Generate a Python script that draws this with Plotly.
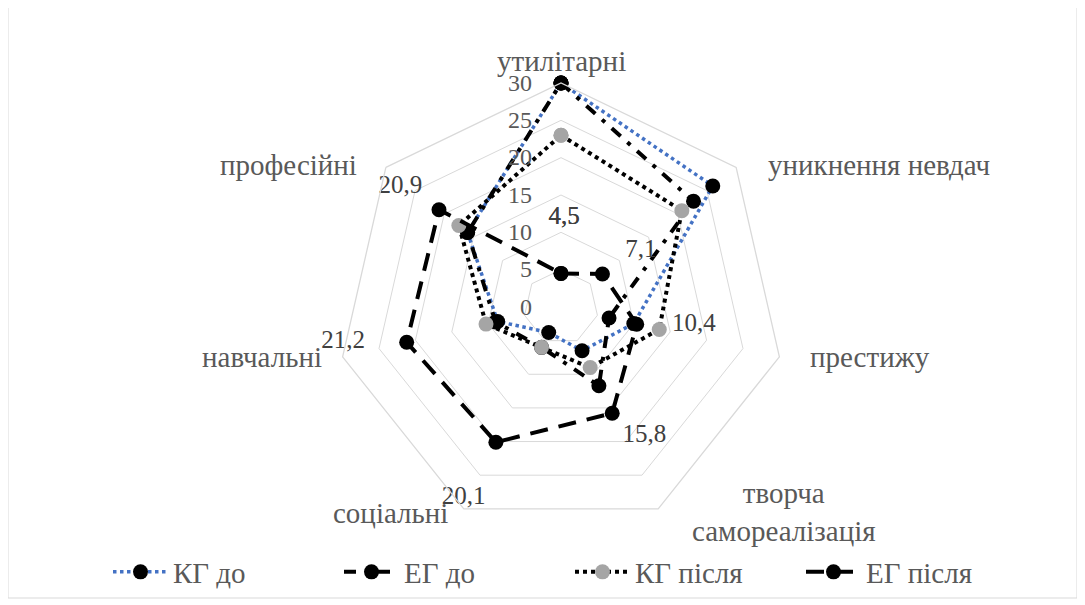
import plotly.graph_objects as go

categories = ["утилітарні", "уникнення невдач", "престижу", "творча<br>самореалізація",
              "соціальні", "навчальні", "професійні"]
kg_before = [30, 26, 10, 6.5, 3.8, 8.7, 16]
eg_before = [30, 22.7, 6.6, 11.7, 6, 9, 16]
kg_after = [23, 20.7, 13.5, 9, 6, 10.3, 17.5]
eg_after = [4.5, 7.1, 10.4, 15.8, 20.1, 21.2, 20.9]
eg_after_labels = ["4,5", "7,1", "10,4", "15,8", "20,1", "21,2", "20,9"]
radial_ticks = [0, 5, 10, 15, 20, 25, 30]

SERIF = "Liberation Serif"
GREY_TXT = "#595959"
NB = "\u00a0"

W, H = 1085, 605
OFF = 8            # page body margin

# --- layout / style only ---
label_pos = ["top center", "top right", "middle right", "bottom right",
             "bottom left", "middle left", "top left"]
label_fmt = [NB + "{}<br>" + NB, NB * 2 + "{}", NB * 4 + "{}", "{}",
             NB + "<br>{}", "{}" + NB * 5, "{}" + NB]
# screen-pixel centres for the category names
cat_label_px = [(561, 61), (879, 165), (870, 357), (784, 512),
                (390, 513), (262, 357), (288, 165)]


def closed(v):
    return list(v) + [v[0]]


def px_to_paper(x, y):
    return (x - OFF) / W, 1 - (y - OFF) / H


label_text = [f.format(t) for f, t in zip(label_fmt, eg_after_labels)]

fig = go.Figure()

fig.add_trace(go.Scatterpolar(
    r=closed(kg_before), theta=closed(categories), name="КГ до",
    mode="lines+markers",
    line=dict(color="#4472C4", width=3.5, dash="dot"),
    marker=dict(color="black", size=15),
))
fig.add_trace(go.Scatterpolar(
    r=closed(eg_before), theta=closed(categories), name="ЕГ до",
    mode="lines+markers",
    line=dict(color="black", width=4, dash="12px,9px,4px,9px"),
    marker=dict(color="black", size=15),
))
fig.add_trace(go.Scatterpolar(
    r=closed(kg_after), theta=closed(categories), name="КГ після",
    mode="lines+markers",
    line=dict(color="black", width=4, dash="dot"),
    marker=dict(color="#A5A5A5", size=15),
))
fig.add_trace(go.Scatterpolar(
    r=closed(eg_after), theta=closed(categories), name="ЕГ після",
    mode="lines+markers+text",
    text=closed(label_text), textposition=closed(label_pos),
    textfont=dict(family=SERIF, size=25, color="#404040"),
    line=dict(color="black", width=4, dash="18px,11px"),
    marker=dict(color="black", size=15),
))

R = 224
cx = 561 - OFF
cy = H - (307 - OFF)

annotations = []
for name, (px, py) in zip(categories, cat_label_px):
    ax_, ay_ = px_to_paper(px, py)
    annotations.append(dict(
        text=name, x=ax_, y=ay_, xref="paper", yref="paper",
        xanchor="center", yanchor="middle", showarrow=False, align="center",
        font=dict(family=SERIF, size=29, color=GREY_TXT),
    ))

fig.update_layout(
    width=W, height=H,
    paper_bgcolor="white", plot_bgcolor="white",
    margin=dict(l=0, r=0, t=0, b=0),
    font=dict(family=SERIF, color=GREY_TXT),
    polar=dict(
        domain=dict(x=[(cx - R) / W, (cx + R) / W], y=[(cy - R) / H, (cy + R) / H]),
        bgcolor="white",
        gridshape="linear",
        radialaxis=dict(
            range=[0, 30], tickvals=radial_ticks, angle=90, tickangle=90,
            side="counterclockwise",
            showline=False, ticks="outside", ticklen=20, tickcolor="rgba(0,0,0,0)",
            gridcolor="#D9D9D9", gridwidth=1.3,
            tickfont=dict(family=SERIF, size=24, color=GREY_TXT),
        ),
        angularaxis=dict(
            rotation=90, direction="clockwise",
            showgrid=False, showline=True, linecolor="#D9D9D9", linewidth=1.3,
            ticks="", showticklabels=False,
        ),
    ),
    annotations=annotations,
    legend=dict(
        orientation="h", x=(108 - OFF) / W, xanchor="left",
        y=1 - (572 - OFF) / H, yanchor="middle",
        font=dict(family=SERIF, size=29, color=GREY_TXT),
        itemwidth=55, entrywidth=161, entrywidthmode="pixels",
        bgcolor="rgba(0,0,0,0)",
    ),
    shapes=[
        dict(type="line", xref="paper", yref="paper", x0=0, x1=0, y0=(H - 598 + OFF) / H, y1=1,
             line=dict(color="#D9D9D9", width=1)),
        dict(type="line", xref="paper", yref="paper", x0=(1077 - OFF) / W, x1=(1077 - OFF) / W,
             y0=(H - 598 + OFF) / H, y1=1, line=dict(color="#D9D9D9", width=1)),
        dict(type="line", xref="paper", yref="paper", x0=0, x1=(1077 - OFF) / W,
             y0=(H - 598 + OFF) / H, y1=(H - 598 + OFF) / H, line=dict(color="#D9D9D9", width=1)),
    ],
)

fig.write_html("out.html")
